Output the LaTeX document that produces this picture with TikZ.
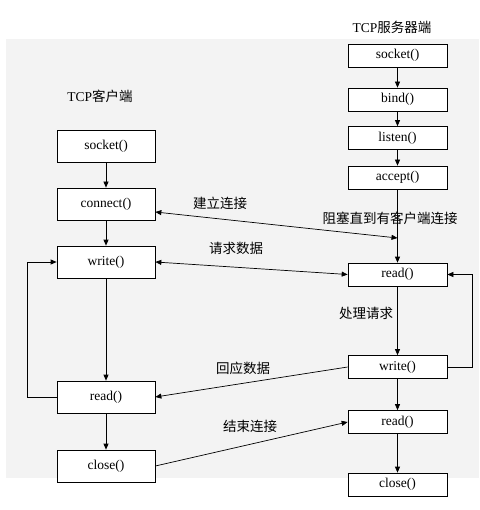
\documentclass[tikz,border=0pt]{standalone}
\usepackage{fontspec}
\setmainfont{Liberation Serif}
\newfontfamily\cjk{Noto Sans CJK SC}
\usetikzlibrary{arrows.meta}
\definecolor{bggray}{HTML}{F3F3F3}
\begin{document}
\begin{tikzpicture}[
        x = 1pt, y = -1pt,
        line width = 0.7pt,
        >={Triangle[length = 6pt, width = 5pt]},
        cbox/.style = {draw, fill = white, minimum width = 98pt, minimum height = 32pt, inner sep = 0pt, font = \fontsize{13.5}{13.5}\selectfont},
        sbox/.style = {draw, fill = white, minimum width = 99pt, minimum height = 23pt, inner sep = 0pt, font = \fontsize{13.5}{13.5}\selectfont},
        lab/.style = {font = \fontsize{13.5}{13.5}\selectfont\cjk, inner sep = 0pt},
        ttl/.style = {font = \fontsize{13.5}{13.5}\selectfont, inner sep = 0pt}
    ]
        \useasboundingbox (0, 0) rectangle (479, 510);
        \fill [bggray] (6, 39) rectangle (479, 478);

        % client side
        \node [ttl] (ctitle) at (100, 96) {TCP{\cjk 客户端}};
        \node [cbox] (csocket) at (106, 146) {socket()};
        \node [cbox] (cconnect) at (106, 204) {connect()};
        \node [cbox] (cwrite) at (106, 262) {write()};
        \node [cbox] (cread) at (106, 397) {read()};
        \node [cbox] (cclose) at (106, 466) {close()};

        % server side
        \node [ttl] (stitle) at (392, 27) {TCP{\cjk 服务器端}};
        \node [sbox] (ssocket) at (397.5, 55.5) {socket()};
        \node [sbox] (sbind) at (397.5, 99.5) {bind()};
        \node [sbox] (slisten) at (397.5, 138) {listen()};
        \node [sbox] (saccept) at (397.5, 177.5) {accept()};
        \node [sbox] (sread) at (397.5, 274.5) {read()};
        \node [sbox] (swrite) at (397.5, 367) {write()};
        \node [sbox] (sreadb) at (397.5, 422) {read()};
        \node [sbox] (sclose) at (397.5, 484.5) {close()};

        \coordinate (block) at (397.5, 238);
        \coordinate (cloop) at (27, 0);
        \coordinate (sloop) at (472, 0);

        \draw [->]
            (csocket) edge (cconnect)
            (cconnect) edge (cwrite)
            (cwrite) edge (cread)
            (cread) edge (cclose)

            (ssocket) edge (sbind)
            (sbind) edge (slisten)
            (slisten) edge (saccept)
            (saccept) edge (sread)
            (sread) edge (swrite)
            (swrite) edge (sreadb)
            (sreadb) edge (sclose)
        ;

        \draw [<->] ([yshift = -8pt] cconnect.east) -- (block);
        \draw [<->] (cwrite.east) -- (sread.west);
        \draw [->] (swrite.west) -- (cread.east);
        \draw [->] (cclose.east) -- (sreadb.west);
        \draw [->] (cread.west) -- (cread.west -| cloop) -- (cwrite.west -| cloop) -- (cwrite.west);
        \draw [->] (swrite.east) -- (swrite.east -| sloop) -- (sread.east -| sloop) -- (sread.east);

        \node [lab] (lconnect) at (220, 203) {建立连接};
        \node [lab] (lblock) at (390, 218) {阻塞直到有客户端连接};
        \node [lab] (lrequest) at (236, 248) {请求数据};
        \node [lab] (lhandle) at (366, 313) {处理请求};
        \node [lab] (lreply) at (243, 368) {回应数据};
        \node [lab] (lend) at (250, 426) {结束连接};
    \end{tikzpicture}
\end{document}
